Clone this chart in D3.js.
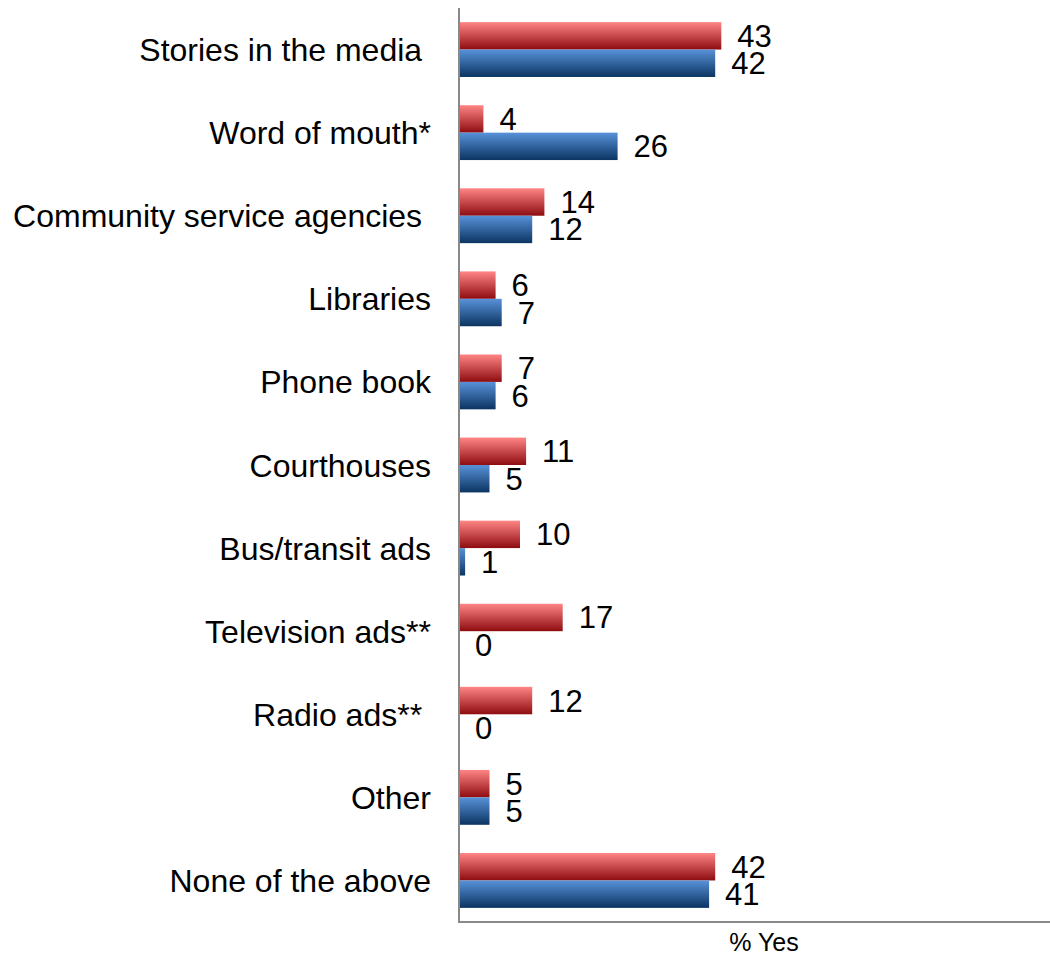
<!DOCTYPE html>
<html>
<head>
<meta charset="utf-8">
<script src="https://cdn.jsdelivr.net/npm/d3@7"></script>
<style>
  body { margin: 0; background: #fff; }
  text { font-family: Arial, "Liberation Sans", sans-serif; fill: #000; }
</style>
</head>
<body>
<div id="chart-area"></div>
<script>
// categories, top to bottom (trailing spaces kept as in the original labels)
var categories = ["Stories in the media ", "Word of mouth*", "Community service agencies ",
    "Libraries", "Phone book", "Courthouses", "Bus/transit ads", "Television ads**",
    "Radio ads** ", "Other", "None of the above"];

// % yes, red series (top bar in each pair)
var seriesRed = [43, 4, 14, 6, 7, 11, 10, 17, 12, 5, 42];
// % yes, blue series (bottom bar in each pair)
var seriesBlue = [42, 26, 12, 7, 6, 5, 1, 0, 0, 5, 41];

var seriesKeys = ["red", "blue"];
var axisTitle = "% Yes";

var width = 1050, height = 955;

var svg = d3.select("#chart-area").append("svg")
    .attr("width", width)
    .attr("height", height);

// gradients
var defs = svg.append("defs");
function addGradient(id, top, bottom) {
    var g = defs.append("linearGradient")
        .attr("id", id)
        .attr("x1", 0).attr("y1", 0)
        .attr("x2", 0).attr("y2", 1);
    g.append("stop").attr("offset", "0%").attr("stop-color", top);
    g.append("stop").attr("offset", "100%").attr("stop-color", bottom);
}
addGradient("grad-red", "#ff8585", "#8e0c10");
addGradient("grad-blue", "#5892d9", "#0b3461");

var data = categories.map(function(c, i) {
    return { cat: c, red: seriesRed[i], blue: seriesBlue[i] };
});

// scales
var x = d3.scaleLinear()
    .domain([0, 100])
    .range([459, 459 + 610]);

var y0 = d3.scaleBand()
    .domain(categories)
    .range([8, 922])
    .paddingInner(0.34)
    .paddingOuter(0.17);

var y1 = d3.scaleBand()
    .domain(seriesKeys)
    .range([0, y0.bandwidth()]);

var groups = svg.selectAll(".group")
    .data(data)
    .enter().append("g")
    .attr("class", "group")
    .attr("transform", function(d) { return "translate(0," + y0(d.cat) + ")"; });

groups.selectAll("rect")
    .data(function(d) { return seriesKeys.map(function(k) { return { key: k, value: d[k] }; }); })
    .enter().append("rect")
    .attr("x", x(0))
    .attr("y", function(d) { return y1(d.key); })
    .attr("width", function(d) { return x(d.value) - x(0); })
    .attr("height", y1.bandwidth())
    .attr("fill", function(d) { return "url(#grad-" + d.key + ")"; });

groups.selectAll(".val")
    .data(function(d) { return seriesKeys.map(function(k) { return { key: k, value: d[k] }; }); })
    .enter().append("text")
    .attr("class", "val")
    .attr("x", function(d) { return x(d.value) + 16; })
    .attr("y", function(d) { return y1(d.key) + y1.bandwidth() / 2 + 11; })
    .style("font-size", "31px")
    .text(function(d) { return d.value; });

// category labels
svg.selectAll(".cat")
    .data(data)
    .enter().append("text")
    .attr("class", "cat")
    .attr("x", 431)
    .attr("y", function(d) { return y0(d.cat) + y0.bandwidth() / 2 + 11.5; })
    .attr("text-anchor", "end")
    .style("white-space", "pre")
    .style("font-size", "32px")
    .text(function(d) { return d.cat; });

// axes lines
svg.append("line")
    .attr("x1", x(0)).attr("x2", x(0))
    .attr("y1", 8).attr("y2", 923)
    .attr("stroke", "#898989").attr("stroke-width", 2);

svg.append("line")
    .attr("x1", x(0)).attr("x2", width)
    .attr("y1", 922).attr("y2", 922)
    .attr("stroke", "#898989").attr("stroke-width", 2);

svg.append("text")
    .attr("x", 764)
    .attr("y", 951)
    .attr("text-anchor", "middle")
    .style("font-size", "25px")
    .text(axisTitle);
</script>
</body>
</html>
